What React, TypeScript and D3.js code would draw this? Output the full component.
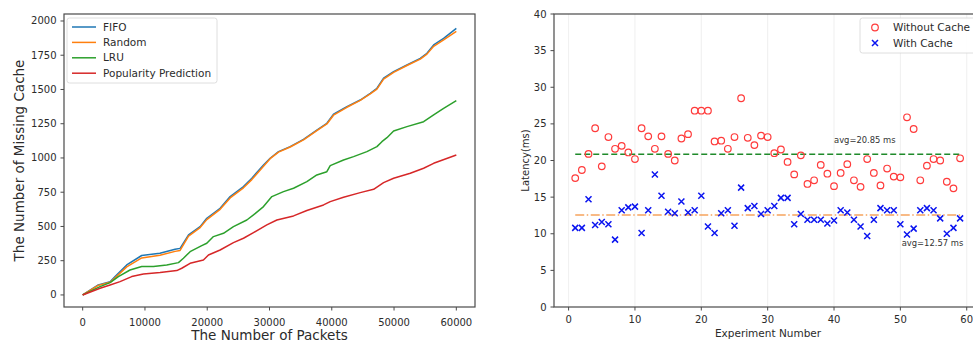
import React from 'react';
import * as d3 from 'd3';

// ---- left panel: cumulative cache misses ----
const fifoPackets = [0, 2500, 4400, 5200, 7070, 9480, 12400, 14840, 15640, 17000, 18860, 19930, 22070, 23680, 25820, 27160, 29040, 30100, 31450, 33320, 35460, 37600, 39210, 40280, 42430, 44570, 46180, 47250, 48320, 49930, 52070, 54210, 55280, 56360, 57960, 60000];
const fifoMissing = [0, 73, 97, 134, 219, 288, 305, 333, 340, 438, 499, 560, 633, 718, 791, 852, 949, 998, 1046, 1083, 1136, 1204, 1253, 1319, 1375, 1423, 1472, 1509, 1582, 1630, 1679, 1727, 1764, 1825, 1873, 1946];
const randomMissing = [0, 70, 92, 125, 205, 270, 290, 318, 325, 430, 492, 550, 625, 708, 782, 842, 940, 995, 1043, 1080, 1132, 1200, 1248, 1312, 1370, 1420, 1468, 1503, 1575, 1625, 1675, 1722, 1758, 1815, 1862, 1925];

const lruPackets = [0, 2790, 4400, 5730, 7600, 9480, 11360, 13500, 15380, 16180, 17250, 19120, 19930, 21000, 22610, 24210, 26360, 27430, 29040, 30380, 32250, 33860, 36000, 37600, 39210, 39750, 41890, 43500, 45640, 47250, 48050, 48860, 49930, 52070, 54750, 56360, 57960, 60000];
const lruMissing = [0, 61, 90, 134, 182, 207, 207, 219, 236, 268, 316, 360, 377, 426, 450, 499, 547, 584, 645, 718, 754, 779, 827, 876, 900, 944, 985, 1010, 1046, 1083, 1119, 1148, 1197, 1229, 1265, 1314, 1362, 1418];

const popPackets = [0, 2790, 4400, 6000, 7870, 9750, 12430, 15110, 15910, 17250, 19390, 20200, 22070, 24210, 25820, 27430, 29570, 31180, 33860, 36000, 38680, 39750, 41890, 44570, 46720, 48320, 49930, 52610, 54750, 56360, 60000];
const popMissing = [0, 49, 73, 97, 134, 153, 163, 178, 195, 231, 255, 292, 328, 382, 414, 455, 511, 547, 577, 616, 657, 681, 713, 747, 771, 820, 852, 888, 925, 961, 1022];

const leftXTicks = [0, 10000, 20000, 30000, 40000, 50000, 60000];
const leftYTicks = [0, 250, 500, 750, 1000, 1250, 1500, 1750, 2000];

// ---- right panel: latency per experiment ----
const experiments = [1, 2, 3, 4, 5, 6, 7, 8, 9, 10, 11, 12, 13, 14, 15, 16, 17, 18, 19, 20, 21, 22, 23, 24, 25, 26, 27, 28, 29, 30, 31, 32, 33, 34, 35, 36, 37, 38, 39, 40, 41, 42, 43, 44, 45, 46, 47, 48, 49, 50, 51, 52, 53, 54, 55, 56, 57, 58, 59];
const withoutCache = [17.6, 18.7, 20.9, 24.4, 19.2, 23.2, 21.6, 22.0, 21.1, 20.2, 24.4, 23.3, 21.6, 23.3, 20.9, 20.0, 23.0, 23.6, 26.8, 26.8, 26.8, 22.6, 22.7, 21.6, 23.2, 28.5, 23.1, 22.1, 23.4, 23.2, 21.0, 21.5, 19.8, 18.1, 20.7, 16.8, 17.3, 19.4, 18.2, 16.5, 18.3, 19.5, 17.3, 16.4, 20.2, 18.3, 16.6, 18.9, 17.8, 17.7, 25.9, 24.3, 17.3, 19.3, 20.2, 20.0, 17.1, 16.2, 20.3];
const withCache = [10.8, 10.8, 14.7, 11.2, 11.6, 11.3, 9.2, 13.2, 13.6, 13.7, 10.1, 13.2, 18.1, 15.2, 13.0, 12.8, 14.4, 12.9, 13.2, 15.2, 11.0, 10.1, 12.8, 13.2, 11.1, 16.3, 13.5, 13.8, 12.7, 13.2, 13.8, 14.9, 14.9, 11.3, 12.7, 11.9, 11.9, 11.9, 11.4, 11.8, 13.2, 12.9, 11.9, 11.0, 9.7, 11.9, 13.5, 13.2, 13.2, 11.3, 9.9, 10.7, 13.2, 13.5, 13.2, 12.1, 10.0, 10.8, 12.1];
const avgWithout = 20.85;
const avgWith = 12.57;
const avgLabelWithout = { x: 40, y: 22.4, text: 'avg=20.85 ms' };
const avgLabelWith = { x: 50.2, y: 8.3, text: 'avg=12.57 ms' };

const rightXTicks = [0, 10, 20, 30, 40, 50, 60];
const rightYTicks = [0, 5, 10, 15, 20, 25, 30, 35, 40];

const FONT = '"DejaVu Sans", sans-serif';
const AXIS = '#4a4a4a';
const TEXT = '#2b2b2b';

type Series = { name: string; xs: number[]; ys: number[]; color: string };

const leftSeries: Series[] = [
  { name: 'FIFO', xs: fifoPackets, ys: fifoMissing, color: '#1f77b4' },
  { name: 'Random', xs: fifoPackets, ys: randomMissing, color: '#ff7f0e' },
  { name: 'LRU', xs: lruPackets, ys: lruMissing, color: '#2ca02c' },
  { name: 'Popularity Prediction', xs: popPackets, ys: popMissing, color: '#d62728' },
];

const LeftPanel: React.FC = () => {
  const box = { left: 64, right: 475, top: 14, bottom: 307 };
  const x = d3.scaleLinear().domain([-3000, 63000]).range([box.left, box.right]);
  const y = d3.scaleLinear().domain([-88, 2051]).range([box.bottom, box.top]);
  const line = d3
    .line<[number, number]>()
    .x((d) => x(d[0]))
    .y((d) => y(d[1]));

  return (
    <g>
      {leftSeries.map((s) => (
        <path
          key={s.name}
          d={line(s.xs.map((v, i) => [v, s.ys[i]] as [number, number])) || ''}
          fill="none"
          stroke={s.color}
          strokeWidth={1.5}
          strokeLinejoin="round"
        />
      ))}
      <rect
        x={box.left}
        y={box.top}
        width={box.right - box.left}
        height={box.bottom - box.top}
        fill="none"
        stroke={AXIS}
        strokeWidth={1.2}
      />
      {leftYTicks.map((t) => (
        <g key={t} transform={`translate(${box.left},${y(t)})`}>
          <line x1={-3.5} x2={0} stroke={AXIS} strokeWidth={1} />
          <text x={-7.5} dy="0.35em" textAnchor="end" fontSize={10} fill={TEXT} fontFamily={FONT}>
            {t}
          </text>
        </g>
      ))}
      {leftXTicks.map((t) => (
        <g key={t} transform={`translate(${x(t)},${box.bottom})`}>
          <line y1={0} y2={3.5} stroke={AXIS} strokeWidth={1} />
          <text y={15} dy="0.35em" textAnchor="middle" fontSize={10} fill={TEXT} fontFamily={FONT}>
            {t}
          </text>
        </g>
      ))}
      <text x={(box.left + box.right) / 2} y={335} dy="0.35em" textAnchor="middle" fontSize={13.5} fill={TEXT} fontFamily={FONT}>
        The Number of Packets
      </text>
      <text
        transform={`translate(19,${(box.top + box.bottom) / 2}) rotate(-90)`}
        dy="0.35em"
        textAnchor="middle"
        fontSize={13.5}
        fill={TEXT}
        fontFamily={FONT}
      >
        The Number of Missing Cache
      </text>
      {/* legend */}
      <rect x={67} y={18} width={150} height={65} rx={2.5} fill="#fff" fillOpacity={0.85} stroke="#d6d6d6" strokeWidth={0.8} />
      {leftSeries.map((s, i) => (
        <g key={s.name} transform={`translate(72,${27 + i * 15.4})`}>
          <line x1={0} x2={24} stroke={s.color} strokeWidth={1.5} />
          <text x={31} dy="0.35em" fontSize={10.5} fill={TEXT} fontFamily={FONT}>
            {s.name}
          </text>
        </g>
      ))}
    </g>
  );
};

const RightPanel: React.FC = () => {
  const box = { left: 554, right: 980, top: 14, bottom: 307 };
  const x = d3.scaleLinear().domain([-2.2, 62.0]).range([box.left, box.right]);
  const y = d3.scaleLinear().domain([0, 40]).range([box.bottom, box.top]);
  const first = experiments[0];
  const last = experiments[experiments.length - 1];

  const cross = (cx: number, cy: number, r: number) =>
    `M${cx - r},${cy - r}L${cx + r},${cy + r}M${cx - r},${cy + r}L${cx + r},${cy - r}`;

  return (
    <g>
      {rightXTicks.map((t) => (
        <line key={`gx${t}`} x1={x(t)} x2={x(t)} y1={box.top} y2={box.bottom} stroke="#ebebeb" strokeWidth={0.8} />
      ))}
      <line x1={x(first)} x2={x(last)} y1={y(avgWithout)} y2={y(avgWithout)} stroke="#1f8a2a" strokeWidth={1.5} strokeDasharray="6,3" />
      <line
        x1={x(first)}
        x2={x(last)}
        y1={y(avgWith)}
        y2={y(avgWith)}
        stroke="#f6a45e"
        strokeWidth={1.5}
        strokeDasharray="9,2.5,1.5,2.5"
      />
      {experiments.map((e, i) => (
        <circle key={`o${e}`} cx={x(e)} cy={y(withoutCache[i])} r={3.3} fill="none" stroke="#ff3b3b" strokeWidth={1.2} />
      ))}
      {experiments.map((e, i) => (
        <path key={`x${e}`} d={cross(x(e), y(withCache[i]), 3)} stroke="#0a14f0" strokeWidth={1.5} fill="none" />
      ))}
      <text x={x(avgLabelWithout.x)} y={y(avgLabelWithout.y)} fontSize={8.4} fill="#333" fontFamily={FONT}>
        {avgLabelWithout.text}
      </text>
      <text x={x(avgLabelWith.x)} y={y(avgLabelWith.y)} fontSize={8.4} fill="#333" fontFamily={FONT}>
        {avgLabelWith.text}
      </text>
      <rect
        x={box.left}
        y={box.top}
        width={box.right - box.left}
        height={box.bottom - box.top}
        fill="none"
        stroke={AXIS}
        strokeWidth={1.2}
      />
      {rightYTicks.map((t) => (
        <g key={t} transform={`translate(${box.left},${y(t)})`}>
          <line x1={-3.5} x2={0} stroke={AXIS} strokeWidth={1} />
          <text x={-7.5} dy="0.35em" textAnchor="end" fontSize={10} fill={TEXT} fontFamily={FONT}>
            {t}
          </text>
        </g>
      ))}
      {rightXTicks.map((t) => (
        <g key={t} transform={`translate(${x(t)},${box.bottom})`}>
          <line y1={0} y2={3.5} stroke={AXIS} strokeWidth={1} />
          <text y={12.5} dy="0.35em" textAnchor="middle" fontSize={10} fill={TEXT} fontFamily={FONT}>
            {t}
          </text>
        </g>
      ))}
      <text x={768} y={333} dy="0.35em" textAnchor="middle" fontSize={10.5} fill={TEXT} fontFamily={FONT}>
        Experiment Number
      </text>
      <text
        transform={`translate(525,${(box.top + box.bottom) / 2}) rotate(-90)`}
        dy="0.35em"
        textAnchor="middle"
        fontSize={10}
        fill={TEXT}
        fontFamily={FONT}
      >
        Latency(ms)
      </text>
      {/* legend */}
      <rect x={860} y={18} width={130} height={35} rx={2.5} fill="#fff" fillOpacity={0.85} stroke="#d6d6d6" strokeWidth={0.8} />
      <circle cx={875} cy={27.5} r={3.3} fill="none" stroke="#ff3b3b" strokeWidth={1.2} />
      <text x={893} y={27.5} dy="0.35em" fontSize={10.5} fill={TEXT} fontFamily={FONT}>
        Without Cache
      </text>
      <path d={cross(875, 43, 3)} stroke="#0a14f0" strokeWidth={1.5} fill="none" />
      <text x={893} y={43} dy="0.35em" fontSize={10.5} fill={TEXT} fontFamily={FONT}>
        With Cache
      </text>
    </g>
  );
};

export default function App() {
  return (
    <svg
      width={973}
      height={343}
      style={{ position: 'absolute', left: 0, top: 0, background: '#fff' }}
    >
      <rect width={973} height={343} fill="#fff" />
      <LeftPanel />
      <RightPanel />
    </svg>
  );
}
